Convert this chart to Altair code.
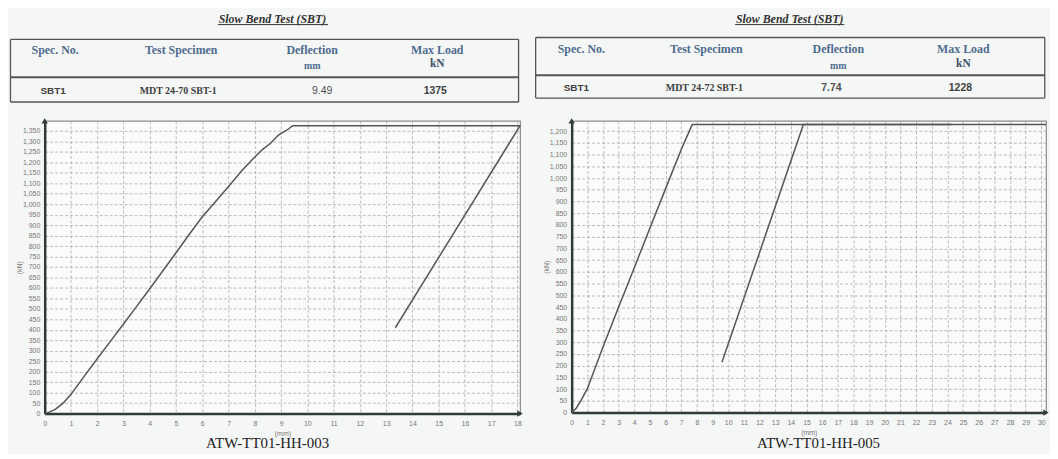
import altair as alt
import pandas as pd

# ------------------------- data -------------------------
# Left test (ATW-TT01-HH-003): deflection (mm) vs load (kN)
L_LOAD_X = [0, 0.2, 0.4, 0.7, 1.0, 1.5, 2.0, 2.5, 3.0, 3.5, 4.0, 4.5, 5.0, 5.5, 6.0, 6.5, 7.0,
            7.5, 8.0, 8.3, 8.6, 8.9, 9.2, 9.45, 18.1]
L_LOAD_Y = [0, 8, 20, 50, 92, 178, 262, 345, 428, 512, 596, 682, 768, 855, 940, 1012, 1085,
            1160, 1225, 1262, 1291, 1330, 1352, 1375, 1375]
L_RET_X = [18.1, 13.35]
L_RET_Y = [1375, 410]

# Right test (ATW-TT01-HH-005)
R_LOAD_X = [0, 0.3, 0.6, 1.0, 2.0, 3.0, 4.0, 5.0, 6.0, 7.0, 7.7, 30.3]
R_LOAD_Y = [0, 20, 52, 102, 280, 450, 618, 787, 955, 1122, 1228, 1228]
R_RET_X = [9.6, 14.8, 24.3]
R_RET_Y = [215, 1228, 1228]

TITLE = "Slow Bend Test (SBT)"
HEADERS = ["Spec. No.", "Test Specimen", "Deflection", "Max Load"]
UNITS = ["mm", "kN"]
L_ROW = ["SBT1", "MDT 24-70 SBT-1", "9.49", "1375"]
R_ROW = ["SBT1", "MDT 24-72 SBT-1", "7.74", "1228"]
CAPTIONS = ["ATW-TT01-HH-003", "ATW-TT01-HH-005"]
X_TITLE = "(mm)"
Y_TITLE = "(kN)"
L_XTICKS = list(range(0, 19))
R_XTICKS = list(range(0, 31))
L_YTICKS = list(range(0, 1351, 50))
R_YTICKS = list(range(0, 1201, 50))

# ------------------------- layout (pixels, relative to plot origin) -------------------------
LAY_L = dict(xmax=18.1, ymax=1398, width=479, height=295,
             title=(229.5, -103), ul=(174.5, 285.5, -97),
             box=(-34.5, 477.5, -82, -44, -19),
             head_y=-71, mm_y=-55, kn_y=-57, row_y=-30,
             head_x=[10.5, 137.5, 269.5, 395.5], row_x=[8.5, 134.5, 279.5, 393.5],
             defl_weight="normal", cap=(224.5, 325))
LAY_R = dict(xmax=30.3, ymax=1244, width=478, height=294,
             title=(219.7, -103), ul=(164.7, 274.7, -97),
             box=(-36.3, 476.7, -84, -46, -23),
             head_y=-72, mm_y=-55, kn_y=-57, row_y=-33,
             head_x=[9.7, 135.7, 268.7, 394.7], row_x=[4.7, 133.7, 261.7, 391.7],
             defl_weight="bold", cap=(248.7, 325))

SERIF = "Liberation Serif"
SANS = "Liberation Sans"
HEAD_COLOR = "#4f6b8f"
LINE_COLOR = "#555555"
AXIS_COLOR = "#2f3b36"


def txt(text, px, py, **kw):
    return alt.Chart(pd.DataFrame({"t": [text]})).mark_text(baseline="middle", **kw).encode(
        text="t:N", x=alt.value(px), y=alt.value(py))


def hrule(x1, x2, y, **kw):
    return alt.Chart(pd.DataFrame({"a": [0]})).mark_rule(**kw).encode(
        x=alt.value(x1), x2=alt.value(x2), y=alt.value(y))


def vrule(x, y1, y2, **kw):
    return alt.Chart(pd.DataFrame({"a": [0]})).mark_rule(**kw).encode(
        x=alt.value(x), y=alt.value(y1), y2=alt.value(y2))


def panel(segs, xticks, yticks, row, caption, lay):
    rows = []
    for s, (xs, ys) in enumerate(segs):
        for i, (a, b) in enumerate(zip(xs, ys)):
            rows.append({"x": a, "y": b, "seg": s, "i": i})
    df = pd.DataFrame(rows)
    xsc = alt.Scale(domain=[0, lay["xmax"]], nice=False, zero=False)
    ysc = alt.Scale(domain=[0, lay["ymax"]], nice=False, zero=False)
    xaxis = alt.Axis(values=xticks, title=X_TITLE, format="d", labelFlush=False,
                     labelOverlap=False, grid=True)
    yaxis = alt.Axis(values=yticks, title=Y_TITLE, format=",d", labelOverlap=False,
                     grid=True)
    lines = alt.Chart(df).mark_line(color=LINE_COLOR, strokeWidth=1.5).encode(
        x=alt.X("x:Q", scale=xsc, axis=xaxis),
        y=alt.Y("y:Q", scale=ysc, axis=yaxis),
        detail="seg:N", order="i:Q")
    arrows = alt.Chart(pd.DataFrame({"x": [0, lay["xmax"]], "y": [lay["ymax"], 0],
                                     "shape": ["triangle-up", "triangle-right"]})).mark_point(
        filled=True, color=AXIS_COLOR, size=40, opacity=1).encode(
        x=alt.X("x:Q", scale=xsc, axis=xaxis), y=alt.Y("y:Q", scale=ysc, axis=yaxis),
        shape=alt.Shape("shape:N", scale=None, legend=None))

    L, R, T, S, B = lay["box"]
    layers = [lines, arrows]
    # invisible anchor fixing the top extent
    layers.append(hrule(L, L + 10, -111, opacity=0))
    # title with underline
    tx, ty = lay["title"]
    layers.append(txt(TITLE, tx, ty, font=SERIF, fontSize=12, fontStyle="italic",
                      fontWeight="bold", color="#333333"))
    u1, u2, uy = lay["ul"]
    layers.append(hrule(u1, u2, uy, color="#333333", strokeWidth=1))
    # table box
    layers.append(hrule(L, R, T, color=LINE_COLOR, strokeWidth=1.3))
    layers.append(hrule(L, R, S, color=LINE_COLOR, strokeWidth=2))
    layers.append(hrule(L, R, B, color=LINE_COLOR, strokeWidth=1.3))
    layers.append(vrule(L, T, B, color=LINE_COLOR, strokeWidth=1.3))
    layers.append(vrule(R, T, B, color=LINE_COLOR, strokeWidth=1.3))
    # headers
    for h, hx in zip(HEADERS, lay["head_x"]):
        layers.append(txt(h, hx, lay["head_y"], font=SERIF, fontSize=12, fontWeight="bold",
                          color=HEAD_COLOR))
    layers.append(txt(UNITS[0], lay["head_x"][2], lay["mm_y"], font=SERIF, fontSize=10,
                      fontWeight="bold", color=HEAD_COLOR))
    layers.append(txt(UNITS[1], lay["head_x"][3], lay["kn_y"], font=SERIF, fontSize=11.5,
                      fontWeight="bold", color="#3d4f66"))
    # data row
    styles = [(SANS, "bold", 10, "#404040"), (SERIF, "bold", 10, "#404040"),
              (SANS, lay["defl_weight"], 10.5, "#505050"), (SANS, "bold", 10.5, "#404040")]
    for v, vx, (f, w, fs, c) in zip(row, lay["row_x"], styles):
        layers.append(txt(v, vx, lay["row_y"], font=f, fontWeight=w, fontSize=fs, color=c))
    # caption
    cx, cy = lay["cap"]
    layers.append(txt(caption, cx, cy, font=SERIF, fontSize=15, color="#222222"))
    return alt.layer(*layers).properties(width=lay["width"], height=lay["height"])


left = panel([(L_LOAD_X, L_LOAD_Y), (L_RET_X, L_RET_Y)], L_XTICKS, L_YTICKS, L_ROW,
             CAPTIONS[0], LAY_L)
right = panel([(R_LOAD_X, R_LOAD_Y), (R_RET_X, R_RET_Y)], R_XTICKS, R_YTICKS, R_ROW,
              CAPTIONS[1], LAY_R)

chart = alt.hconcat(left, right, spacing=52, bounds="flush").properties(
    padding=0, background="#f5f6f6"
).configure_view(
    stroke="#8c8c8c", strokeWidth=1.2, fill="#fbfbfb"
).configure_axis(
    domainColor=AXIS_COLOR, domainWidth=2.5, ticks=False,
    gridColor="#a0a0a0", gridDash=[3, 2], gridWidth=0.7,
    labelFont=SANS, labelFontSize=7, labelColor="#777777",
    titleFont=SANS, titleFontSize=7, titleColor="#777777", titleFontWeight="normal"
).configure_axisX(
    labelPadding=6, titlePadding=3
).configure_axisY(
    labelPadding=5, titlePadding=0
)

chart.save("out.html", embed_options={"renderer": "svg", "actions": False})
